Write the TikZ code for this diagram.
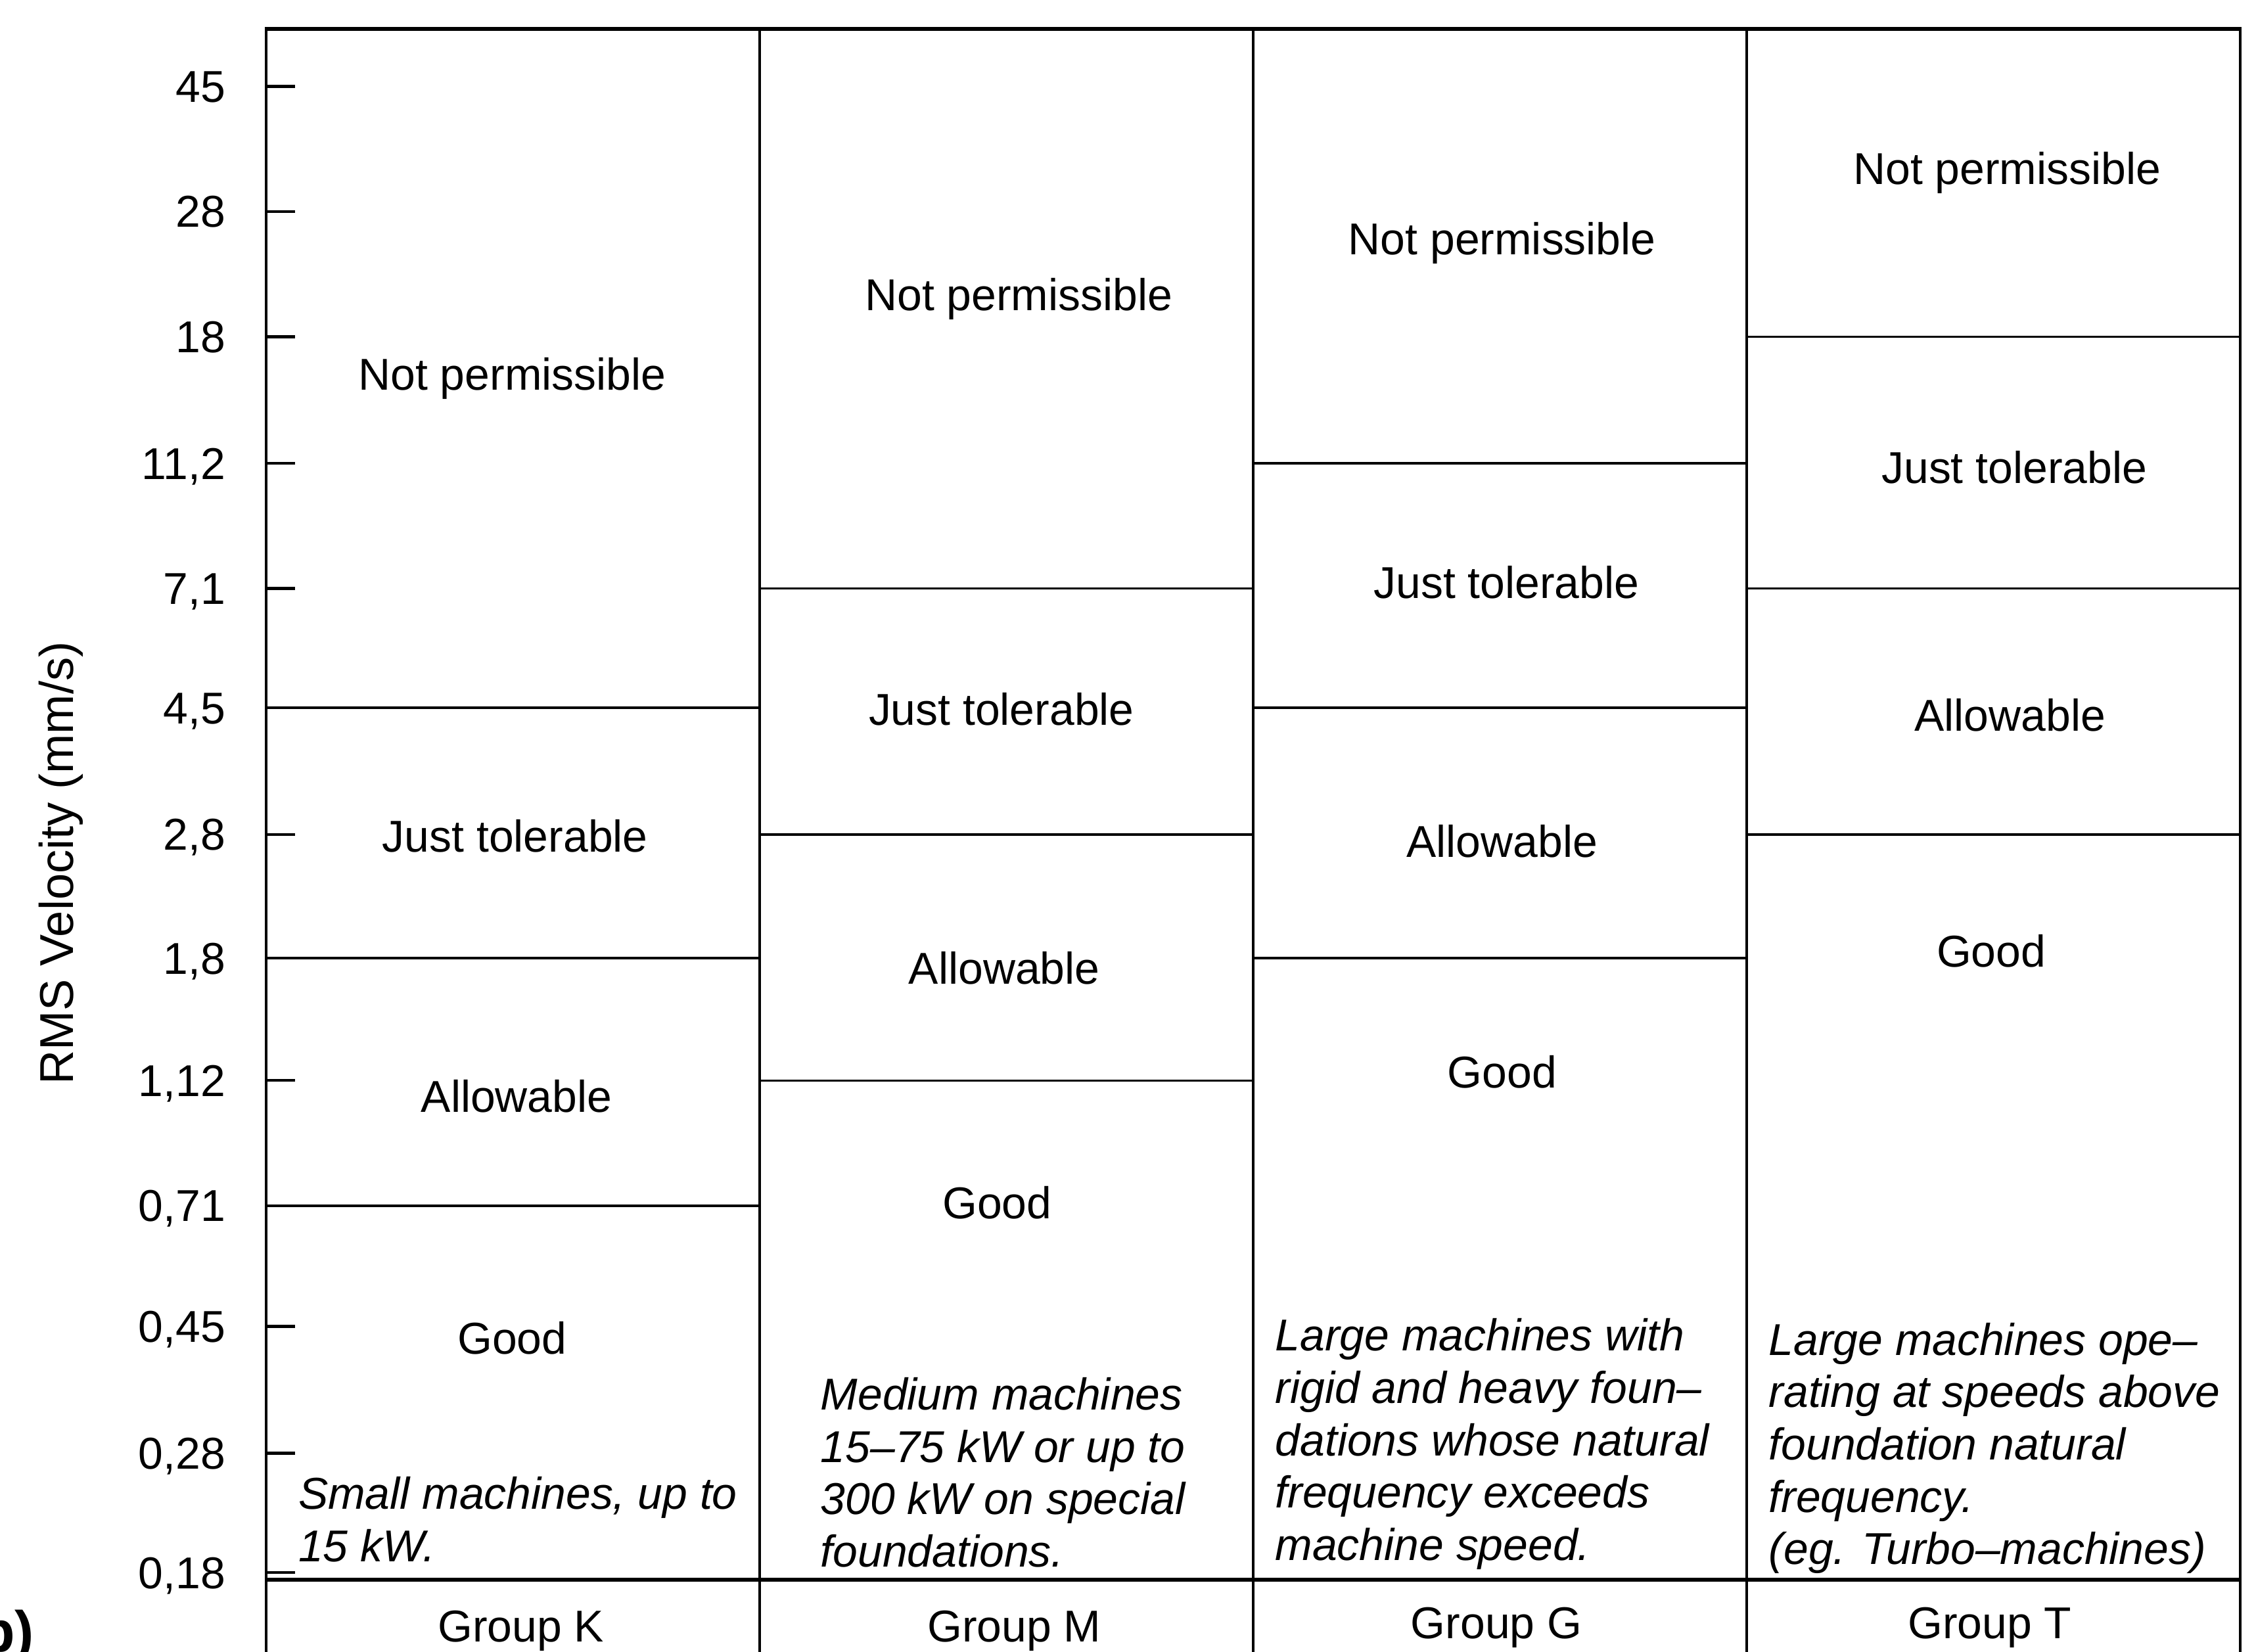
\documentclass[tikz,border=0pt]{standalone}
\usepackage{fontspec}
\setmainfont{Liberation Sans}
\usepackage{tikz}

\tikzset{
  zone/.style={inner sep=0pt, font=\fontsize{15.5}{18}\selectfont, text height=11pt, text depth=0pt},
  desc/.style={inner sep=0pt, anchor=north west, align=left, font=\fontsize{15.5}{18.2}\selectfont\itshape},
  rim/.style={line width=1.4pt},
  side/.style={line width=1.1pt},
  band/.style={line width=0.8pt}
}

\begin{document}
\begin{tikzpicture}[x=0.5pt,y=0.5pt,yscale=-1,xscale=1]
\useasboundingbox (0,0) rectangle (1568,1148);

%Frame
\draw [rim] (184,20) -- (1558,20) ;
\draw [rim] (184,1098) -- (1558,1098) ;
\draw [side] (185,19) -- (185,1160) ;
\draw [side] (1557,19) -- (1557,1160) ;
%Column dividers
\foreach \cx in {528,871,1214}
  \draw [band] (\cx,20) -- (\cx,1160) ;

%Scale ticks and values
\foreach \tv/\ty in {45/60,28/147,18/234,11{,}2/322,7{,}1/409,4{,}5/492,2{,}8/580,1{,}8/666,1{,}12/751,0{,}71/838,0{,}45/922,0{,}28/1010,0{,}18/1093}
{
  \draw [line width=1pt] (185,\ty) -- (205,\ty) ;
  \node [zone, anchor=east] (tick\ty) at (157,\ty) {\tv};
}

% Axis title
\node [zone, rotate=90, font=\fontsize{16.5}{18}\selectfont] (ytitle) at (40,600) {RMS Velocity (mm/s)};
% Figure tag
\node [inner sep=0pt, anchor=base east, font=\fontsize{20}{22}\selectfont\bfseries] (tag) at (24,1148) {(b)};

%Group K
\draw [band] (185,492) -- (528,492) ;
\draw [band] (185,666) -- (528,666) ;
\draw [band] (185,838) -- (528,838) ;
\node [zone] (npK) at (356,260) {Not permissible};
\node [zone] (jtK) at (358,581) {Just tolerable};
\node [zone] (alK) at (359,762) {Allowable};
\node [zone] (gdK) at (356,930) {Good};
\node [desc] (dsK) at (207,1026) {Small machines, up to\\15 kW.};

%Group M
\draw [band] (528,409) -- (871,409) ;
\draw [band] (528,580) -- (871,580) ;
\draw [band] (528,751) -- (871,751) ;
\node [zone] (npM) at (708,205) {Not permissible};
\node [zone] (jtM) at (696,493) {Just tolerable};
\node [zone] (alM) at (698,673) {Allowable};
\node [zone] (gdM) at (693,836) {Good};
\node [desc] (dsM) at (570,957) {Medium machines\\15--75 kW or up to\\300 kW on special\\foundations.};

%Group G
\draw [band] (871,322) -- (1214,322) ;
\draw [band] (871,492) -- (1214,492) ;
\draw [band] (871,666) -- (1214,666) ;
\node [zone] (npG) at (1044,166) {Not permissible};
\node [zone] (jtG) at (1047,405) {Just tolerable};
\node [zone] (alG) at (1044,585) {Allowable};
\node [zone] (gdG) at (1044,745) {Good};
\node [desc] (dsG) at (886,916) {Large machines with\\rigid and heavy foun--\\dations whose natural\\frequency exceeds\\machine speed.};

%Group T
\draw [band] (1214,234) -- (1557,234) ;
\draw [band] (1214,409) -- (1557,409) ;
\draw [band] (1214,580) -- (1557,580) ;
\node [zone] (npT) at (1395,117) {Not permissible};
\node [zone] (jtT) at (1400,325) {Just tolerable};
\node [zone] (alT) at (1397,497) {Allowable};
\node [zone] (gdT) at (1384,661) {Good};
\node [desc] (dsT) at (1229,919) {Large machines ope--\\rating at speeds above\\foundation natural\\frequency.\\(eg. Turbo--machines)};

% Group names
\node [zone] (grK) at (362,1130) {Group K};
\node [zone] (grM) at (705,1130) {Group M};
\node [zone] (grG) at (1040,1128) {Group G};
\node [zone] (grT) at (1383,1128) {Group T};
\end{tikzpicture}
\end{document}
